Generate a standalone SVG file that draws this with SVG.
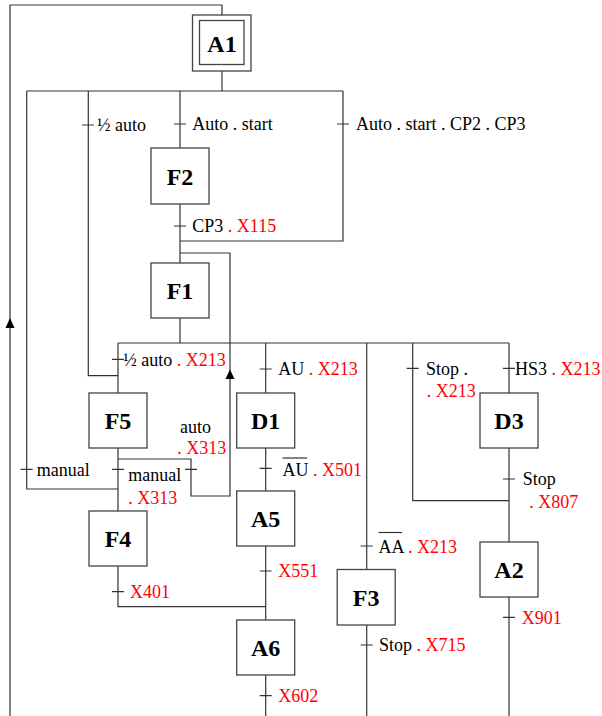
<svg xmlns="http://www.w3.org/2000/svg" width="602" height="716" viewBox="0 0 602 716">
<style>
.ln{fill:none;stroke:#333;stroke-width:1.2}
.box{fill:#fff;stroke:#444;stroke-width:1.3}
.lbl{font-family:"Liberation Serif","Times New Roman",serif;font-weight:bold;font-size:24px;text-anchor:middle;fill:#000}
.t{font-family:"Liberation Serif","Times New Roman",serif;font-size:18px;fill:#000}
.r{fill:#ff0000}
.ar{fill:#000}
</style>
<rect width="602" height="716" fill="#fff"/>
<g id="connectors">
<path class="ln" d="M10,716 V5 H222 V15"/>
<polygon class="ar" points="10,318 5.5,328 14.5,328"/>
<path class="ln" d="M222,71 V91"/>
<path class="ln" d="M26.7,91 H343"/>
<path class="ln" d="M26.7,91 V489 H118"/>
<path class="ln" d="M88.3,91 V375.7 H118"/>
<path class="ln" d="M180,91 V148"/>
<path class="ln" d="M180,204 V263"/>
<path class="ln" d="M343,91 V241 H180"/>
<path class="ln" d="M180,253 H230 V496 H191 V459 H118"/>
<polygon class="ar" points="230,369.5 225.5,379 234.5,379"/>
<path class="ln" d="M180,318 V343"/>
<path class="ln" d="M118,343 H509"/>
<path class="ln" d="M118,343 V393"/>
<path class="ln" d="M118,448 V511"/>
<path class="ln" d="M118,566 V606.7 H265.7"/>
<path class="ln" d="M265.7,343 V393 M265.7,448 V491 M265.7,546 V620 M265.7,675 V716"/>
<path class="ln" d="M366.7,343 V569 M366.7,625 V716"/>
<path class="ln" d="M412.7,343 V500.7 H509"/>
<path class="ln" d="M509,343 V393 M509,448 V542 M509,597 V716"/>
<!-- ticks -->
<path class="ln" d="M82,125 H94 M174,124 H186 M337,124 H349 M174,226 H186 M20.7,469.3 H32.7 M112,359.3 H124 M112,469.3 H124 M185,469.3 H197 M112,591.7 H124 M259.7,369 H271.7 M259.7,468.3 H271.7 M259.7,571 H271.7 M259.7,695.7 H271.7 M360.7,546 H372.7 M360.7,645 H372.7 M406.7,368.3 H418.7 M503,368.3 H515 M503,479 H515 M503,617.3 H515"/>
</g>
<g id="A1">
<rect class="box" x="192.5" y="15" width="58.5" height="56"/>
<rect class="box" x="199.5" y="20.5" width="44.5" height="44"/>
<text class="lbl" x="222" y="51.5">A1</text>
</g>
<g id="F2"><rect class="box" x="151" y="148" width="58" height="56"/><text class="lbl" x="180" y="184.5">F2</text></g>
<g id="F1"><rect class="box" x="151" y="263" width="58" height="55"/><text class="lbl" x="180" y="299">F1</text></g>
<g id="F5"><rect class="box" x="89" y="393" width="58" height="55"/><text class="lbl" x="118" y="429">F5</text></g>
<g id="F4"><rect class="box" x="89" y="511" width="58" height="55"/><text class="lbl" x="118" y="547">F4</text></g>
<g id="D1"><rect class="box" x="236.7" y="393" width="58" height="55"/><text class="lbl" x="265.7" y="429">D1</text></g>
<g id="A5"><rect class="box" x="236.7" y="491" width="58" height="55"/><text class="lbl" x="265.7" y="527">A5</text></g>
<g id="A6"><rect class="box" x="236.7" y="620" width="58" height="55"/><text class="lbl" x="265.7" y="656">A6</text></g>
<g id="F3"><rect class="box" x="337.2" y="569.5" width="58" height="55.5"/><text class="lbl" x="366.2" y="605.5">F3</text></g>
<g id="D3"><rect class="box" x="480" y="393" width="58" height="55"/><text class="lbl" x="509" y="429">D3</text></g>
<g id="A2"><rect class="box" x="480" y="542" width="58" height="55"/><text class="lbl" x="509" y="578">A2</text></g>
<g id="labels">
<text class="t" x="97" y="131">½ auto</text>
<text class="t" x="192.3" y="130">Auto . start</text>
<text class="t" x="356" y="130">Auto . start . CP2 . CP3</text>
<text class="t" x="192.3" y="232">CP3<tspan class="r"> . X115</tspan></text>
<text class="t" x="123.3" y="365.5">½ auto<tspan class="r"> . X213</tspan></text>
<text class="t" x="180" y="432.7">auto</text>
<text class="t r" x="177.3" y="454.3">. X313</text>
<text class="t" x="36.7" y="475.5">manual</text>
<text class="t" x="128.3" y="481">manual</text>
<text class="t r" x="128.3" y="504">. X313</text>
<text class="t" x="130" y="598"><tspan class="r">X401</tspan></text>
<text class="t" x="278.3" y="375">AU<tspan class="r"> . X213</tspan></text>
<text class="t" x="282.5" y="475.5">AU<tspan class="r"> . X501</tspan></text>
<line class="ln" x1="282.5" y1="458" x2="307" y2="458"/>
<text class="t r" x="278.3" y="577">X551</text>
<text class="t r" x="278.3" y="702">X602</text>
<text class="t" x="378.5" y="552.5">AA<tspan class="r"> . X213</tspan></text>
<line class="ln" x1="378.5" y1="532.5" x2="402" y2="532.5"/>
<text class="t" x="379" y="651">Stop<tspan class="r"> . X715</tspan></text>
<text class="t" x="426" y="374.5">Stop .</text>
<text class="t r" x="426.7" y="397">. X213</text>
<text class="t" x="515" y="374.5">HS3<tspan class="r"> . X213</tspan></text>
<text class="t" x="522.7" y="485">Stop</text>
<text class="t r" x="529.3" y="508">. X807</text>
<text class="t r" x="521.7" y="623.5">X901</text>
</g>
</svg>
